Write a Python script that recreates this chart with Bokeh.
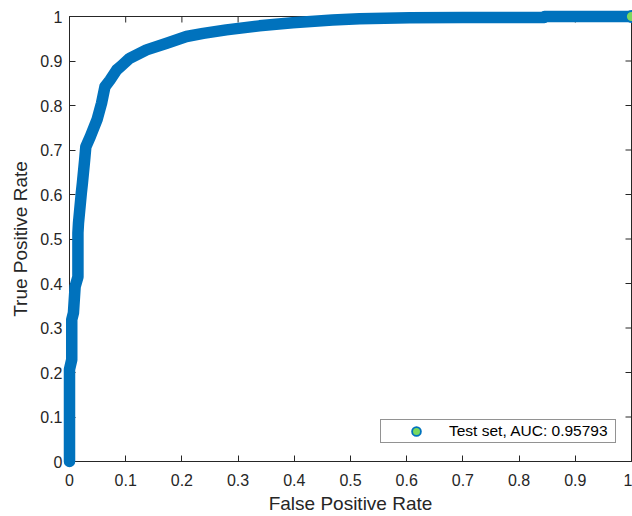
import math
from bokeh.plotting import figure
from bokeh.models import FixedTicker, Range1d, Legend, LegendItem
from bokeh.embed import file_html
from bokeh.resources import INLINE

# ROC curve points
fpr = [0.0, 0.0, 0.004, 0.004, 0.007, 0.010, 0.015, 0.015, 0.016, 0.021,
       0.023, 0.027, 0.029, 0.037, 0.049, 0.057, 0.063, 0.072, 0.084, 0.093,
       0.107, 0.137, 0.173, 0.208, 0.238, 0.279, 0.338, 0.397, 0.468, 0.516,
       0.605, 0.700, 0.845, 0.845, 1.0]
tpr = [0.0, 0.207, 0.229, 0.319, 0.334, 0.393, 0.415, 0.514, 0.536, 0.603,
       0.626, 0.678, 0.707, 0.730, 0.768, 0.805, 0.842, 0.857, 0.880, 0.890,
       0.906, 0.925, 0.940, 0.955, 0.962, 0.970, 0.979, 0.986, 0.992, 0.995,
       0.997, 0.998, 0.998, 1.0, 1.0]

tick_values = [0, 0.1, 0.2, 0.3, 0.4, 0.5, 0.6, 0.7, 0.8, 0.9, 1]
tick_labels = ["0", "0.1", "0.2", "0.3", "0.4", "0.5", "0.6", "0.7", "0.8", "0.9", "1"]
legend_text = "Test set, AUC: 0.95793"
x_title = "False Positive Rate"
y_title = "True Positive Rate"

BLUE = "#0072BD"
GREEN = "#7ad95f"
AX = "#262626"
FONT = "Liberation Sans"

p = figure(width=632, height=516, output_backend="svg", toolbar_location=None,
           x_range=Range1d(0, 1), y_range=Range1d(0, 1),
           min_border_left=69, min_border_right=1, min_border_top=16,
           min_border_bottom=54)
p.grid.visible = False
p.outline_line_color = AX
p.outline_line_width = 1
p.background_fill_color = "white"
p.border_fill_color = "white"

overrides = {v: s for v, s in zip(tick_values, tick_labels)}

for ax in (p.xaxis[0], p.yaxis[0]):
    ax.ticker = FixedTicker(ticks=tick_values)
    ax.major_label_overrides = overrides
    ax.axis_line_color = AX
    ax.axis_line_width = 1
    ax.major_tick_line_color = AX
    ax.major_tick_in = 6
    ax.major_tick_out = 0
    ax.minor_tick_line_color = None
    ax.major_label_text_font = FONT
    ax.major_label_text_color = AX
    ax.major_label_text_font_size = "16px"
    ax.major_label_text_line_height = 1.0
    ax.axis_label_text_font = FONT
    ax.axis_label_text_color = AX
    ax.axis_label_text_font_style = "normal"
    ax.axis_label_text_font_size = "19px"
    ax.axis_label_text_line_height = 0.8

p.xaxis[0].axis_label = x_title
p.yaxis[0].axis_label = y_title
p.xaxis[0].major_label_standoff = 12
p.xaxis[0].axis_label_standoff = 4
p.yaxis[0].major_label_standoff = 7
p.yaxis[0].axis_label_standoff = 6

# inward tick marks on the top and right edges (clipped to the frame)
n = len(tick_values)
p.scatter(tick_values, [1] * n, marker="dash", size=12, angle=math.pi / 2,
          line_color=AX, line_width=1)
p.scatter([1] * n, tick_values, marker="dash", size=12,
          line_color=AX, line_width=1)

curve = p.line(fpr, tpr, line_width=11.5, line_color=BLUE,
               line_join="round", line_cap="round")
curve.level = "annotation"
pts = p.scatter(fpr[-1:], tpr[-1:], size=11, marker="circle",
                fill_color=GREEN, line_color=BLUE, line_width=1.8)
pts.level = "annotation"

legend = Legend(items=[LegendItem(label=legend_text, renderers=[pts])],
                location=(311, 18), margin=0, padding=(2, 7, 0, 0), spacing=0,
                glyph_width=66, glyph_height=22, label_height=22,
                label_standoff=0,
                label_text_font=FONT, label_text_font_size="15.5px",
                label_text_color="black",
                border_line_color=AX, border_line_width=1,
                background_fill_color="white", background_fill_alpha=1)
p.add_layout(legend)

open("out.html", "w").write(file_html(p, INLINE))
